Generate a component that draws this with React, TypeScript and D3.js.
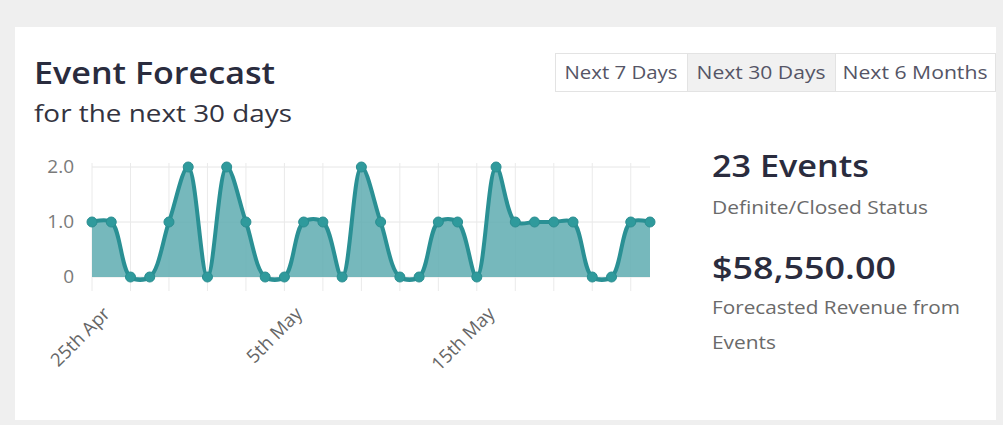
import React from "react";
import * as d3 from "d3";

const dates: string[] = [
  "25th Apr","26th Apr","27th Apr","28th Apr","29th Apr","30th Apr","1st May","2nd May","3rd May","4th May",
  "5th May","6th May","7th May","8th May","9th May","10th May","11th May","12th May","13th May","14th May",
  "15th May","16th May","17th May","18th May","19th May","20th May","21st May","22nd May","23rd May","24th May",
];
const eventCounts: number[] = [
  1, 1, 0, 0, 1, 2, 0, 2, 1, 0,
  0, 1, 1, 0, 2, 1, 0, 0, 1, 1,
  0, 2, 1, 1, 1, 1, 0, 0, 1, 1,
];
const yTicks: number[] = [0, 1, 2];
const xLabelIdx: number[] = [0, 10, 20];
const ranges: string[] = ["Next 7 Days", "Next 30 Days", "Next 6 Months"];
const activeRange = "Next 30 Days";

const W = 1003;
const H = 425;
const FONT = "'Open Sans', Lato, sans-serif";

export default function App() {
  const x = d3.scaleLinear().domain([0, dates.length - 1]).range([92, 650]);
  const y = d3.scaleLinear().domain([0, 2]).range([277, 167]);
  const curve = d3.curveCatmullRom.alpha(0.5);
  const line = d3.line<number>().x((_, i) => x(i)).y((d) => y(d)).curve(curve);
  const area = d3.area<number>().x((_, i) => x(i)).y0(y(0)).y1((d) => y(d)).curve(curve);

  const btnX = [555, 687, 835, 995];
  const btnLen = [113, 129, 145];

  return (
    <div style={{ position: "absolute", left: 0, top: 0, width: W, height: H }}>
      <svg width={W} height={H} style={{ display: "block", fontFamily: FONT }}>
        <rect x={0} y={0} width={W} height={H} fill="#efefef" />
        <rect x={15} y={27} width={981} height={393} fill="#ffffff" />

        <text x={34} y={84} fontSize={30} fontWeight={600} fill="#2a2c3e" textLength={241} lengthAdjust="spacingAndGlyphs">Event Forecast</text>
        <text x={34} y={122} fontSize={23} fill="#333340" textLength={258} lengthAdjust="spacingAndGlyphs">for the next 30 days</text>

        {ranges.map((r, i) => (
          <g key={r}>
            <rect x={btnX[i] + 0.5} y={53.5} width={btnX[i + 1] - btnX[i]} height={38}
              fill={r === activeRange ? "#f1f1f1" : "#ffffff"} stroke="#e3e3e3" />
            <text x={(btnX[i] + btnX[i + 1]) / 2} y={79} textAnchor="middle" fontSize={18} fill="#555566"
              textLength={btnLen[i]} lengthAdjust="spacingAndGlyphs">{r}</text>
          </g>
        ))}

        {/* grid */}
        {yTicks.map((t) => (
          <line key={"h" + t} x1={x(0)} x2={x(dates.length - 1)} y1={y(t)} y2={y(t)} stroke="#e6e6e6" />
        ))}
        {dates.map((d, i) => i % 2 === 0 ? (
          <line key={"v" + i} x1={x(i)} x2={x(i)} y1={y(2) - 4} y2={y(0) + 14} stroke="#eaeaea" />
        ) : null)}
        {yTicks.map((t) => (
          <text key={"yl" + t} x={74} y={y(t) + 6} textAnchor="end" fontSize={19} fill="#7a7a7a">
            {t === 0 ? "0" : t.toFixed(1)}
          </text>
        ))}

        <path d={area(eventCounts) || ""} fill="#5eacb0" fillOpacity={0.85} />
        <path d={line(eventCounts) || ""} fill="none" stroke="#2a9094" strokeWidth={4} />
        {eventCounts.map((v, i) => (
          <circle key={"p" + i} cx={x(i)} cy={y(v)} r={5} fill="#2f9a9c" stroke="#2a8e91" strokeWidth={1} />
        ))}

        {xLabelIdx.map((i) => (
          <text key={"xl" + i} transform={`translate(${x(i) + 19},${y(0) + 38}) rotate(-45)`}
            textAnchor="end" fontSize={18.5} fill="#666">{dates[i]}</text>
        ))}

        <text x={712} y={177} fontSize={30} fontWeight={600} fill="#2a2c3e" textLength={157} lengthAdjust="spacingAndGlyphs">23 Events</text>
        <text x={712} y={214} fontSize={18} fill="#6a6a6a" textLength={216} lengthAdjust="spacingAndGlyphs">Definite/Closed Status</text>
        <text x={712} y={279} fontSize={30} fontWeight={600} fill="#2a2c3e" textLength={184} lengthAdjust="spacingAndGlyphs">$58,550.00</text>
        <text x={712} y={314} fontSize={18} fill="#6a6a6a" textLength={248} lengthAdjust="spacingAndGlyphs">Forecasted Revenue from</text>
        <text x={712} y={349} fontSize={18} fill="#6a6a6a" textLength={64} lengthAdjust="spacingAndGlyphs">Events</text>
      </svg>
    </div>
  );
}
